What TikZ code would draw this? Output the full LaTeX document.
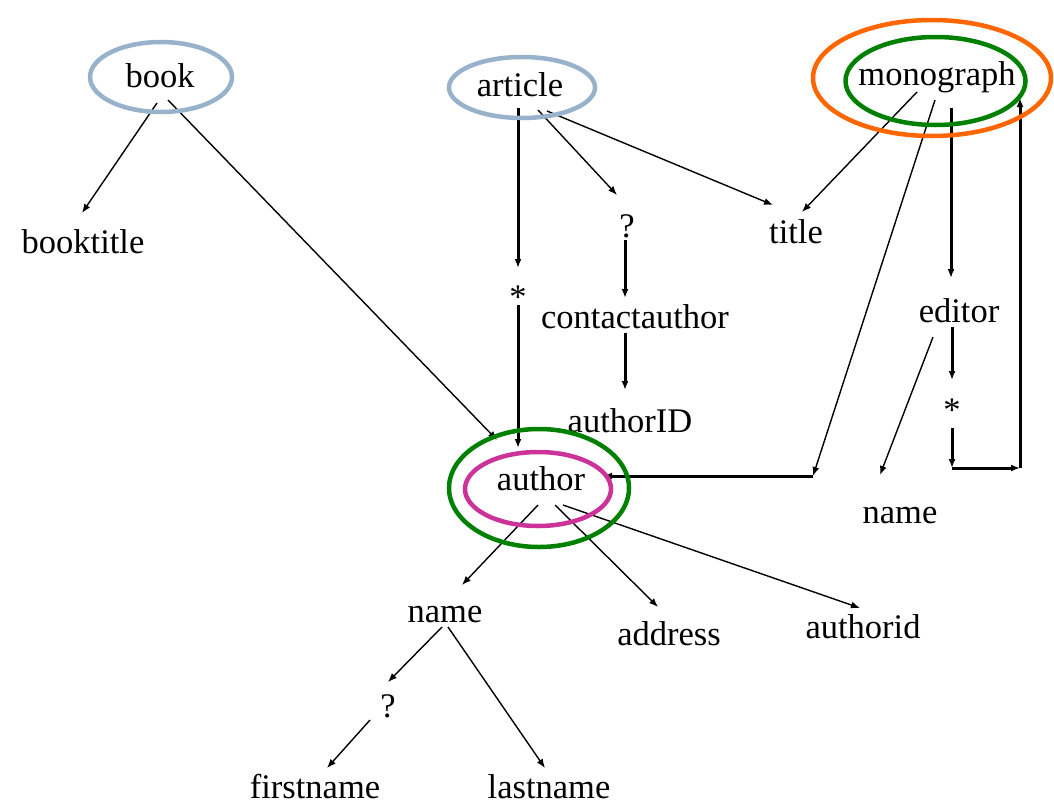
\documentclass[tikz,border=0pt]{standalone}
\usepackage{fontspec}
\setmainfont{Liberation Serif}
\usetikzlibrary{arrows.meta}

\definecolor{rootblue}{RGB}{152,178,203}
\definecolor{ringgreen}{RGB}{0,128,0}
\definecolor{ringorange}{RGB}{255,102,0}
\definecolor{ringpink}{RGB}{204,51,153}

\begin{document}
\begin{tikzpicture}[x=1pt, y=-1pt,
        lbl/.style={inner sep=0pt, anchor=base, font=\fontsize{34.5}{40}\selectfont},
        thinarr/.style={-{Latex[length=9pt,width=7pt]}, line width=1.4pt},
        thickarr/.style={-{Latex[length=9pt,width=7pt]}, line width=3pt},
        ring/.style={line width=4.5pt}]
        \useasboundingbox (0,0) rectangle (1054,806);

        % Nodes
        \node (book) [lbl] at (160,87) {book};
        \node (article) [lbl] at (520,96) {article};
        \node (monograph) [lbl] at (937,85) {monograph};
        \node (booktitle) [lbl] at (83,253) {booktitle};
        \node (q1) [lbl] at (627,237) {?};
        \node (title) [lbl] at (796,243) {title};
        \node (ast1) [lbl] at (518,308) {*};
        \node (contact) [lbl] at (635,328) {contactauthor};
        \node (cauthorid) [lbl] at (630,432) {authorID};
        \node (editor) [lbl] at (959,322) {editor};
        \node (ast2) [lbl] at (952,421) {*};
        \node (author) [lbl] at (541,490) {author};
        \node (name2) [lbl] at (900,523) {name};
        \node (name) [lbl] at (445,622) {name};
        \node (address) [lbl] at (669,645) {address};
        \node (authorid) [lbl] at (863,638) {authorid};
        \node (q2) [lbl] at (388,717) {?};
        \node (firstname) [lbl] at (315,798) {firstname};
        \node (lastname) [lbl] at (549,798) {lastname};
        \coordinate (junction) at (813,476);
        \coordinate (bend1) at (952,468);
        \coordinate (bend2) at (1020,468);

        % Edges
        \draw[thinarr] ([shift={(-3,16)}]book.base) -- ([shift={(-1,-40)}]booktitle.base);
        \draw[thinarr] ([shift={(8,13)}]book.base) -- ([shift={(-44,-50)}]author.base);
        \draw[thickarr] ([shift={(-2,12)}]article.base) -- ([shift={(0,-40)}]ast1.base);
        \draw[thickarr] ([shift={(0,-3)}]ast1.base) -- ([shift={(-23,-42)}]author.base);
        \draw[thinarr] ([shift={(18,14)}]article.base) -- ([shift={(-10,-42)}]q1.base);
        \draw[thinarr] ([shift={(27,15)}]article.base) -- ([shift={(-23,-38)}]title.base);
        \draw[thickarr] ([shift={(-2,3)}]q1.base) -- ([shift={(-10,-30)}]contact.base);
        \draw[thickarr] ([shift={(-10,5)}]contact.base) -- ([shift={(-5,-42)}]cauthorid.base);
        \draw[thinarr] ([shift={(-20,7)}]monograph.base) -- ([shift={(6,-31)}]title.base);
        \draw[thinarr] ([shift={(-2,15)}]monograph.base) -- (junction);
        \draw[thickarr] (junction) -- ([shift={(62,-14)}]author.base);
        \draw[thickarr] ([shift={(14,23)}]monograph.base) -- ([shift={(-8,-44)}]editor.base);
        \draw[thickarr] ([shift={(-7,5)}]editor.base) -- ([shift={(0,-41)}]ast2.base);
        \draw[thickarr] ([shift={(0,7)}]ast2.base) -- (bend1);
        \draw[thickarr] (bend1) -- (bend2);
        \draw[thickarr] (bend2) -- ([shift={(83,13)}]monograph.base);
        \draw[thinarr] ([shift={(-26,15)}]editor.base) -- ([shift={(-20,-48)}]name2.base);
        \draw[thinarr] ([shift={(-3,15)}]author.base) -- ([shift={(17,-37)}]name.base);
        \draw[thinarr] ([shift={(14,15)}]author.base) -- ([shift={(-11,-38)}]address.base);
        \draw[thinarr] ([shift={(22,15)}]author.base) -- ([shift={(-3,-30)}]authorid.base);
        \draw[thinarr] ([shift={(-3,5)}]name.base) -- ([shift={(0,-35)}]q2.base);
        \draw[thinarr] ([shift={(-18,3)}]q2.base) -- ([shift={(12,-30)}]firstname.base);
        \draw[thinarr] ([shift={(3,5)}]name.base) -- ([shift={(-4,-30)}]lastname.base);

        % Rings
        \draw[ring, draw=rootblue] ([shift={(1,-10)}]book.base) ellipse [x radius=71, y radius=35];
        \draw[ring, draw=rootblue] ([shift={(2,-8.5)}]article.base) ellipse [x radius=73, y radius=30.5];
        \draw[ring, draw=ringorange] ([shift={(-5,-7)}]monograph.base) ellipse [x radius=119, y radius=58];
        \draw[ring, draw=ringgreen] ([shift={(-1.5,-4)}]monograph.base) ellipse [x radius=90, y radius=44];
        \draw[ring, draw=ringgreen] ([shift={(-2,-2)}]author.base) ellipse [x radius=90, y radius=59];
        \draw[ring, draw=ringpink] ([shift={(-3,-1)}]author.base) ellipse [x radius=73, y radius=37];
\end{tikzpicture}
\end{document}
